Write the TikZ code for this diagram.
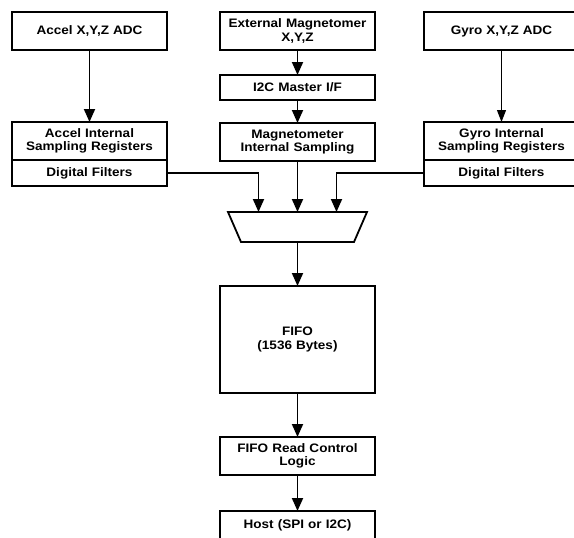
\documentclass[tikz,border=0pt]{standalone}
\usepackage{fontspec}
\setmainfont{Liberation Sans}[FakeStretch=1.1]
\usetikzlibrary{arrows.meta,positioning,calc}

\begin{document}
\begin{tikzpicture}[
    node distance=25pt,
    block/.style={rectangle, draw, line width=1.8pt, text width=150pt, align=center, minimum width=155pt, minimum height=38pt, inner sep=0pt, outer sep=0pt, font=\fontsize{12.3}{13.4}\selectfont\bfseries},
    slim/.style={block, minimum height=25pt},
    muxbox/.style={rectangle, minimum width=139pt, minimum height=30pt, inner sep=0pt, outer sep=0pt},
    arrow/.style={-{Triangle[length=13pt,width=11pt]}, line width=1.8pt}
]
    \useasboundingbox (0,0) rectangle (574pt,-538pt);
    \clip (0,0) rectangle (574pt,-538pt);

    % sensor front ends
    \node[block] (acceladc) at (89.5pt,-31pt) {Accel X,Y,Z ADC};
    \node[block, right=53pt of acceladc] (extmag) {External Magnetomer\\X,Y,Z};
    \node[block, right=49pt of extmag] (gyroadc) {Gyro X,Y,Z ADC};
    \node[slim, below=25pt of extmag] (i2c) {I2C Master I/F};
    \node[block, below=23pt of i2c] (magint) {Magnetometer\\Internal Sampling};
    \node[block, below=72pt of acceladc] (accelint) {Accel Internal\\Sampling Registers};
    \node[block, minimum height=26pt, below=0pt of accelint] (accelflt) {Digital Filters};
    \node[block, below=72pt of gyroadc] (gyroint) {Gyro Internal\\Sampling Registers};
    \node[block, minimum height=26pt, below=0pt of gyroint] (gyroflt) {Digital Filters};

    % mux, fifo and host side
    \node[muxbox, below=51pt of magint] (sel) {};
    \draw[line width=1.8pt] (sel.north west) -- (sel.north east) -- ([xshift=-13pt]sel.south east) -- ([xshift=13pt]sel.south west) -- cycle;
    \node[block, minimum height=107pt, below=44pt of sel] (fifo) {FIFO\\(1536 Bytes)};
    \node[block, below=44pt of fifo] (fiforead) {FIFO Read Control\\Logic};
    \node[slim, minimum height=29pt, below=36pt of fiforead] (host) {Host (SPI or I2C)};

    \draw[arrow] (acceladc) -- (accelint);
    \draw[arrow] (extmag) -- (i2c);
    \draw[arrow] (i2c) -- (magint);
    \draw[-{Triangle[length=12pt,width=9pt]}, line width=1pt] (gyroadc) -- (gyroint);
    \draw[arrow] (accelflt.east) -| ([xshift=-39pt]sel.north);
    \draw[arrow] (gyroflt.west) -| ([xshift=39pt]sel.north);
    \draw[arrow] (magint) -- (sel);
    \draw[arrow] (sel) -- (fifo);
    \draw[arrow] (fifo) -- (fiforead);
    \draw[arrow] (fiforead) -- (host);
\end{tikzpicture}
\end{document}
